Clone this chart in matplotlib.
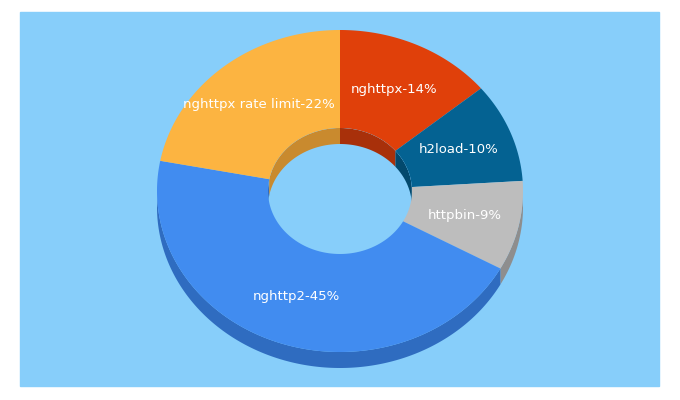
import numpy as np
import matplotlib
matplotlib.use("Agg")
import matplotlib.pyplot as plt
from matplotlib.patches import Polygon, Rectangle, Ellipse

labels = ["nghttpx", "h2load", "httpbin", "nghttp2", "nghttpx rate limit"]
values = [14, 10, 9, 45, 22]
colors = ["#E0400A", "#046292", "#BDBDBD", "#418CF0", "#FCB441"]
sides = ["#A8300A", "#03496D", "#8E8E8E", "#2F6CC0", "#C98A2E"]

cx, cy, rx, ry, irx, iry, d = 340, 191, 183, 161, 72, 63, 16

fig = plt.figure(figsize=(6.8, 4), dpi=100)
ax = fig.add_axes([0, 0, 1, 1])
ax.set_xlim(0, 680); ax.set_ylim(400, 0); ax.axis("off")
ax.add_patch(Rectangle((20, 12), 639, 374, color="#87CEFA", zorder=0))

def pt(a, rxx, ryy, off=0):
    r = np.radians(a)
    return np.column_stack([cx + rxx*np.cos(r), cy - ryy*np.sin(r) + off])

total = sum(values)
start = 90.0
spans = []
for v in values:
    end = start - 360*v/total
    spans.append((start, end)); start = end

# outer side walls (front: angles in (-180, 0) mod 360)
for (s, e), c in zip(spans, sides):
    a = np.linspace(s, e, 200)
    m = np.sin(np.radians(a)) < 0
    if m.sum() < 2: continue
    aa = a[m]
    top = pt(aa, rx, ry); bot = pt(aa[::-1], rx, ry, d)
    ax.add_patch(Polygon(np.vstack([top, bot]), color=c, zorder=1, lw=0))

# top surfaces
for (s, e), c, lab, v in zip(spans, colors, labels, values):
    a = np.linspace(s, e, 200)
    poly = np.vstack([pt(a, rx, ry), pt(a[::-1], irx, iry)])
    ax.add_patch(Polygon(poly, color=c, zorder=2, lw=0))
    mid = (s + e)/2
    p = pt([mid], (rx+irx)/2, (ry+iry)/2)[0]
    ax.text(p[0], p[1], f"{lab}-{v}%", color="white", fontsize=9.5,
            ha="center", va="center", zorder=5)

# inner walls (back)
hole = Ellipse((cx, cy), 2*irx, 2*iry, transform=ax.transData)
for (s, e), c in zip(spans, sides):
    a = np.linspace(s, e, 200)
    m = np.sin(np.radians(a)) > 0
    if m.sum() < 2: continue
    aa = a[m]
    poly = np.vstack([pt(aa, irx, iry), pt(aa[::-1], irx, iry, d)])
    pg = Polygon(poly, color=c, zorder=3, lw=0)
    ax.add_patch(pg); pg.set_clip_path(hole)

fig.savefig("out.png", dpi=100)
